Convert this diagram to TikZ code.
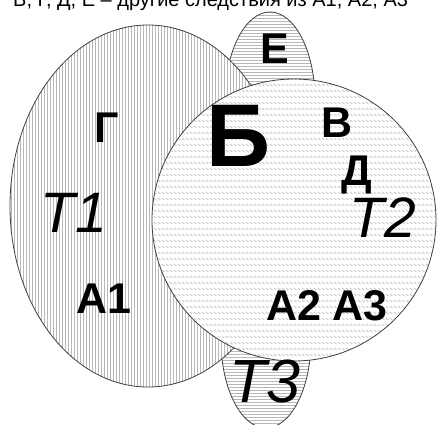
\documentclass[tikz,border=0pt]{standalone}
\usepackage{fontspec}
\setmainfont{Liberation Sans}

\begin{document}
\begin{tikzpicture}[x=1pt,y=-1pt,
  rim/.style={draw=black!75,line width=0.8pt},
  hatch/.style={draw=black!28,line width=0.7pt},
  lbl/.style={anchor=base,inner sep=0pt,font=\bfseries\fontsize{43}{43}\selectfont},
  tlbl/.style={anchor=base,inner sep=0pt,font=\itshape\fontsize{57}{57}\selectfont}]
\clip (0,0) rectangle (437,425);
\node[anchor=base west,inner sep=0pt,font=\fontsize{20}{20}\selectfont] (note) at (13,7) {В, Г, Д, Е – другие следствия из А1, А2, А3};

\coordinate (cE) at (270,100);
\coordinate (cT3) at (266,340);
\coordinate (cT1) at (148,206);
\coordinate (cT2) at (294,220);

% set E (behind)
\fill[white] (cE) ellipse [x radius=45, y radius=88];
\begin{scope}
  \clip (cE) ellipse [x radius=45, y radius=88];
  \draw[hatch] \foreach \y in {12,15,...,189} {(224,\y) -- (316,\y)};
\end{scope}
\draw[rim] (cE) ellipse [x radius=45, y radius=88];

% set T3 (behind)
\fill[white] (cT3) ellipse [x radius=45, y radius=88];
\begin{scope}
  \clip (cT3) ellipse [x radius=45, y radius=88];
  \draw[hatch] \foreach \y in {252,255,...,429} {(220,\y) -- (312,\y)};
\end{scope}
\draw[rim] (cT3) ellipse [x radius=45, y radius=88];

% set T1
\fill[white] (cT1) ellipse [x radius=138, y radius=181];
\begin{scope}
  \clip (cT1) ellipse [x radius=138, y radius=181];
  \draw[hatch] \foreach \x in {11,14,...,287} {(\x,24) -- (\x,388)};
\end{scope}
\draw[rim] (cT1) ellipse [x radius=138, y radius=181];

% set T2
\fill[white] (cT2) ellipse [x radius=142, y radius=141];
\begin{scope}
  \clip (cT2) ellipse [x radius=142, y radius=141];
  \foreach \y in {78,84,...,362}
    \draw[hatch,line width=0.6pt] \foreach \x in {150,154,...,438} {(\x,\y) -- ++(2.5,2)};
\end{scope}
\draw[rim] (cT2) ellipse [x radius=142, y radius=141];

% labels
\node[lbl] (g) at (107,143) {Г};
\node[tlbl] (t1) at (74,233) {Т1};
\node[lbl] (a1) at (104,313) {А1};
\node[lbl,font=\bfseries\fontsize{89}{89}\selectfont] (b) at (238,167) {Б};
\node[lbl] (v) at (337,138) {В};
\node[lbl] (d) at (357,186) {Д};
\node[lbl] (e) at (275,64) {Е};
\node[tlbl] (t2) at (383,238) {Т2};
\node[lbl] (a23) at (327,320) {А2 А3};
\node[tlbl,font=\itshape\fontsize{61}{61}\selectfont] (t3) at (265,402) {Т3};
\end{tikzpicture}
\end{document}
